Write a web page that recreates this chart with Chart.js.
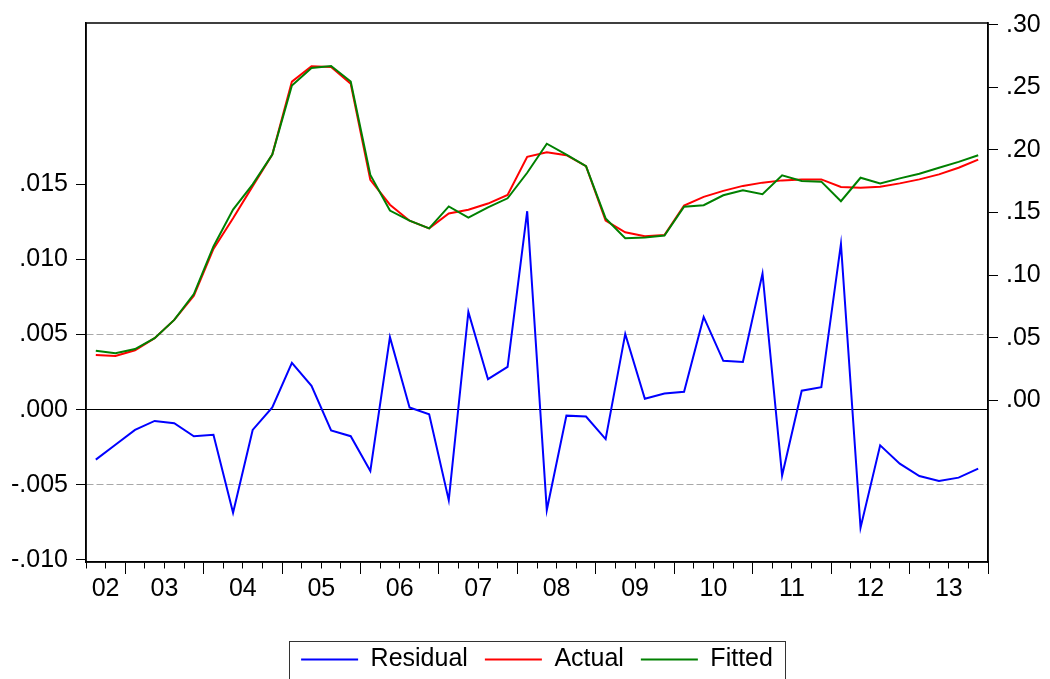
<!DOCTYPE html>
<html>
<head>
<meta charset="utf-8">
<script src="https://cdn.jsdelivr.net/npm/chart.js@4.4.1/dist/chart.umd.min.js"></script>
<style>
  html, body { margin: 0; padding: 0; background: #fff; }
  #wrap { width: 1050px; height: 679px; }
</style>
</head>
<body>
<div id="wrap"><canvas id="chart" width="1050" height="679"></canvas></div>
<script>
// quarterly sample 2002Q3 - 2013Q4
const quarters = [
  '2002Q3','2002Q4',
  '2003Q1','2003Q2','2003Q3','2003Q4','2004Q1','2004Q2','2004Q3','2004Q4',
  '2005Q1','2005Q2','2005Q3','2005Q4','2006Q1','2006Q2','2006Q3','2006Q4',
  '2007Q1','2007Q2','2007Q3','2007Q4','2008Q1','2008Q2','2008Q3','2008Q4',
  '2009Q1','2009Q2','2009Q3','2009Q4','2010Q1','2010Q2','2010Q3','2010Q4',
  '2011Q1','2011Q2','2011Q3','2011Q4','2012Q1','2012Q2','2012Q3','2012Q4',
  '2013Q1','2013Q2','2013Q3','2013Q4'
];
const residual = [
  -0.00333,-0.00234,-0.00135,-0.00075,-0.00090,-0.00177,-0.00168,-0.00687,-0.00135,0.00015,
  0.00311,0.00159,-0.00139,-0.00177,-0.00408,0.00483,0.00015,-0.00031,-0.00603,0.00651,
  0.00203,0.00285,0.01322,-0.00669,-0.00040,-0.00046,-0.00196,0.00505,0.00073,0.00108,
  0.00119,0.00618,0.00325,0.00318,0.00907,-0.00439,0.00126,0.00150,0.01104,-0.00786,
  -0.00238,-0.00360,-0.00442,-0.00475,-0.00453,-0.00393
];
const actual = [
  0.0361,0.0353,0.0399,0.0496,0.0642,0.0834,0.1209,0.1453,0.1710,0.1962,
  0.2545,0.2667,0.2662,0.2528,0.1760,0.1562,0.1434,0.1373,0.1492,0.1521,
  0.1571,0.1640,0.1944,0.1981,0.1957,0.1870,0.1434,0.1341,0.1310,0.1320,
  0.1555,0.1624,0.1672,0.1712,0.1738,0.1756,0.1764,0.1764,0.1704,0.1698,
  0.1706,0.1732,0.1764,0.1804,0.1857,0.1922
];
const fitted = [
  0.0396,0.0375,0.0409,0.0496,0.0642,0.0848,0.1228,0.1523,0.1724,0.1962,
  0.2514,0.2654,0.2670,0.2546,0.1800,0.1515,0.1434,0.1373,0.1548,0.1458,
  0.1540,0.1613,0.1817,0.2049,0.1962,0.1870,0.1452,0.1294,0.1300,0.1315,
  0.1545,0.1558,0.1637,0.1677,0.1645,0.1796,0.1751,0.1746,0.1590,0.1777,
  0.1732,0.1772,0.1809,0.1857,0.1904,0.1957
];
const residTicks = [-0.010, -0.005, 0, 0.005, 0.010, 0.015];
const levelTicks = [0, 0.05, 0.10, 0.15, 0.20, 0.25, 0.30];
const yearLabels = {2002: '02', 2003: '03', 2004: '04', 2005: '05', 2006: '06', 2007: '07',
  2008: '08', 2009: '09', 2010: '10', 2011: '11', 2012: '12', 2013: '13'};

Chart.defaults.font.family = "'Liberation Sans', Arial, sans-serif";
Chart.defaults.font.size = 25;
Chart.defaults.color = '#000';

function fmt(v, d) {
  return v.toFixed(d).replace(/^(-?)0\./, '$1.');
}

const frame = {
  id: 'frame',
  afterDraw(chart) {
    const {ctx, chartArea: a} = chart;
    ctx.save();
    ctx.strokeStyle = '#000';
    ctx.lineWidth = 1.5;
    ctx.strokeRect(a.left, a.top, a.right - a.left, a.bottom - a.top);
    // box round the legend
    const hb = chart.legend.legendHitBoxes;
    if (hb && hb.length) {
      const last = hb[hb.length - 1];
      ctx.lineWidth = 1;
      ctx.strokeStyle = '#333';
      ctx.strokeRect(Math.round(hb[0].left - 12) + 0.5, Math.round(hb[0].top - 6) + 0.5,
        Math.round(last.left + last.width - hb[0].left + 24), 60);
    }
    ctx.restore();
  }
};

new Chart(document.getElementById('chart'), {
  type: 'line',
  data: {
    labels: quarters,
    datasets: [
      { label: 'Residual', data: residual, yAxisID: 'y', borderColor: '#0000ff', backgroundColor: '#0000ff', order: 0 },
      { label: 'Actual', data: actual, yAxisID: 'y2', borderColor: '#ff0000', backgroundColor: '#ff0000', order: 2 },
      { label: 'Fitted', data: fitted, yAxisID: 'y2', borderColor: '#008000', backgroundColor: '#008000', order: 1 }
    ]
  },
  options: {
    responsive: false,
    animation: false,
    devicePixelRatio: 1,
    layout: { padding: { top: 20, left: 0, right: 0, bottom: -3 } },
    elements: {
      line: { borderWidth: 2, tension: 0 },
      point: { radius: 0 }
    },
    plugins: {
      tooltip: { enabled: false },
      legend: {
        position: 'bottom',
        fullSize: false,
        labels: {
          usePointStyle: true,
          pointStyle: 'line',
          pointStyleWidth: 57,
          padding: 17,
          color: '#000',
          font: { size: 25 },
          sort: (a, b) => a.datasetIndex - b.datasetIndex,
          generateLabels: chart => Chart.defaults.plugins.legend.labels.generateLabels(chart).map(it => {
            const ds = chart.data.datasets[it.datasetIndex];
            it.strokeStyle = ds.borderColor;
            it.fillStyle = ds.borderColor;
            it.lineWidth = 2;
            it.lineDash = [];
            return it;
          })
        }
      }
    },
    scales: {
      x: { type: 'category', offset: true, display: false },
      xq: {
        type: 'linear',
        position: 'bottom',
        min: 2002.5,
        max: 2014,
        afterBuildTicks: s => {
          const t = [];
          for (let v = 2002.5; v <= 2014; v += 0.25) t.push({ value: v });
          s.ticks = t;
        },
        afterFit: s => { s.height = 68; },
        grid: {
          drawOnChartArea: false,
          tickLength: 12,
          tickColor: '#000',
          tickWidth: 1,
          tickBorderDash: c => (c.tick && Number.isInteger(c.tick.value)) ? [] : [6, 40]
        },
        border: { color: '#000', width: 1.5 },
        ticks: {
          autoSkip: false,
          maxRotation: 0,
          padding: 0,
          callback: v => {
            if (v === 2002.75) return yearLabels[2002];
            if (v % 1 === 0.5 && v > 2003) return yearLabels[Math.floor(v)];
            return '';
          }
        }
      },
      y: {
        position: 'left',
        min: -0.01015,
        max: 0.02576,
        afterBuildTicks: s => { s.ticks = residTicks.map(v => ({ value: v })); },
        afterFit: s => { s.width = 86; },
        grid: {
          drawOnChartArea: true,
          tickLength: 10,
          tickColor: '#000',
          color: c => {
            const v = c.tick ? c.tick.value : null;
            if (v === 0) return '#000';
            if (v !== null && Math.abs(Math.abs(v) - 0.005) < 1e-9) return '#a8a8a8';
            return 'rgba(0,0,0,0)';
          }
        },
        border: {
          color: '#000',
          width: 1.5,
          dash: c => (c.tick && c.tick.value !== 0) ? [7, 3] : []
        },
        ticks: { padding: 8, callback: v => fmt(v, 3) }
      },
      y2: {
        position: 'right',
        min: -0.1292,
        max: 0.3013,
        afterBuildTicks: s => { s.ticks = levelTicks.map(v => ({ value: v })); },
        afterFit: s => { s.width = 62; },
        grid: { drawOnChartArea: false, tickLength: 10, tickColor: '#000' },
        border: { color: '#000', width: 1.5 },
        ticks: { padding: 8, callback: v => fmt(v, 2) }
      }
    }
  },
  plugins: [frame]
});
</script>
</body>
</html>
